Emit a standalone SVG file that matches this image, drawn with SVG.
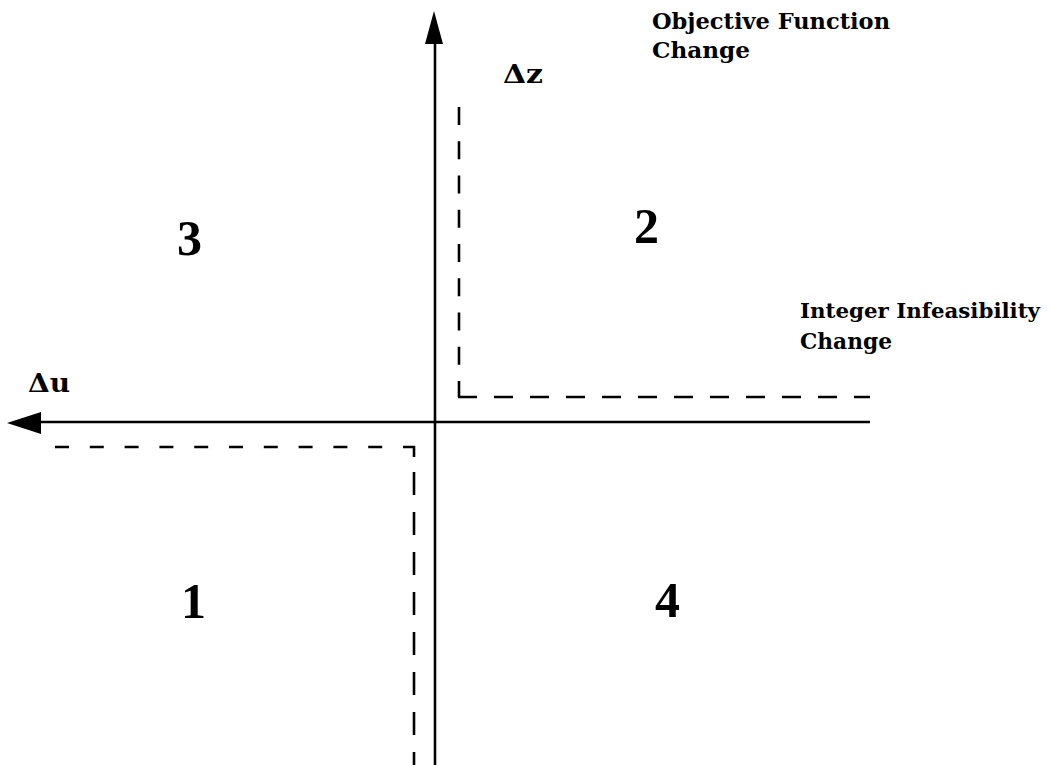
<svg xmlns="http://www.w3.org/2000/svg" width="1052" height="765" viewBox="0 0 1052 765">
<style>
.lbl{font-family:"DejaVu Serif","Liberation Serif",serif;font-weight:bold;fill:#000;}
.num{font-family:"Liberation Serif","Times New Roman",serif;font-size:50px;font-weight:bold;fill:#000;}
.ax{stroke:#000;stroke-width:2.6;fill:none;}
.d{stroke:#000;stroke-width:2.6;fill:none;}
</style>
<rect width="1052" height="765" fill="#fff"/>
<g id="axes">
<line class="ax" x1="435" y1="40" x2="435" y2="765"/>
<polygon points="434,11 425,44 443,44" fill="#000"/>
<line class="ax" x1="38" y1="422" x2="870" y2="422"/>
<polygon points="7,423 41,412 41,434" fill="#000"/>
</g>
<g id="dashed-boundaries">
<line class="d" x1="459" y1="107" x2="459" y2="397" stroke-dasharray="18 16.25"/>
<line class="d" x1="458" y1="397" x2="870" y2="397" stroke-dasharray="19 17"/>
<line class="d" x1="55" y1="447" x2="415" y2="447" stroke-dasharray="14 20.8"/>
<line class="d" x1="414" y1="446" x2="414" y2="457"/>
<line class="d" x1="414" y1="472" x2="414" y2="765" stroke-dasharray="23 17"/>
</g>
<g id="axis-labels">
<text class="lbl" x="652" y="29" font-size="23" textLength="238" lengthAdjust="spacingAndGlyphs">Objective Function</text>
<text class="lbl" x="652" y="58" font-size="23" textLength="98" lengthAdjust="spacingAndGlyphs">Change</text>
<text class="lbl" x="503" y="83" font-size="26" textLength="40" lengthAdjust="spacingAndGlyphs">Δz</text>
<text class="lbl" x="800" y="318" font-size="21" textLength="240" lengthAdjust="spacingAndGlyphs">Integer Infeasibility</text>
<text class="lbl" x="800" y="349" font-size="22" textLength="92" lengthAdjust="spacingAndGlyphs">Change</text>
<text class="lbl" x="28" y="392" font-size="26" textLength="42" lengthAdjust="spacingAndGlyphs">Δu</text>
</g>
<g id="quadrants">
<text class="num" x="177" y="255">3</text>
<text class="num" x="634" y="243">2</text>
<text class="num" x="181" y="618">1</text>
<text class="num" x="655" y="617">4</text>
</g>
</svg>
